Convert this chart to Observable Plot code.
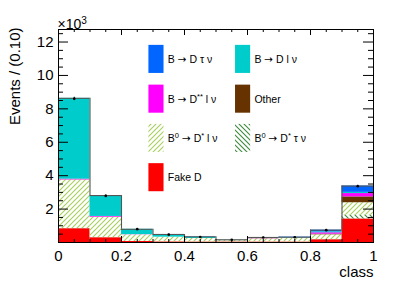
<!DOCTYPE html>
<html><head><meta charset="utf-8">
<script src="https://cdn.jsdelivr.net/npm/d3@7"></script>
<script src="https://cdn.jsdelivr.net/npm/@observablehq/plot@0.6"></script>
<style>body{margin:0;background:#fff} svg{display:block}</style>
</head><body><div id="chart"></div>
<script>
// ---- data (thousands of events per bin of 0.10) ----
const binLow = [0, 0.1, 0.2, 0.3, 0.4, 0.5, 0.6, 0.7, 0.8, 0.9];
const binWidth = 0.1;
const fakeD      = [0.82, 0.28, 0.06, 0.03, 0.02, 0.02, 0.02, 0.02, 0.16, 1.40];
const dstarTauNu = [0.02, 0.01, 0.00, 0.00, 0.00, 0.00, 0.00, 0.00, 0.02, 0.23];
const dstarLNu   = [2.90, 1.22, 0.40, 0.29, 0.22, 0.12, 0.20, 0.22, 0.28, 0.75];
const other      = [0.01, 0.01, 0.00, 0.00, 0.00, 0.01, 0.01, 0.01, 0.04, 0.35];
const dssLNu     = [0.04, 0.04, 0.01, 0.00, 0.00, 0.00, 0.01, 0.01, 0.08, 0.20];
const dLNu       = [4.84, 1.25, 0.32, 0.16, 0.08, 0.01, 0.03, 0.03, 0.06, 0.07];
const dTauNu     = [0.00, 0.00, 0.00, 0.00, 0.02, 0.00, 0.03, 0.03, 0.10, 0.38];
const dataCounts = [8.60, 2.79, 0.80, 0.47, 0.33, 0.16, 0.30, 0.31, 0.74, 3.37];
const xTickLabels = [0, 0.2, 0.4, 0.6, 0.8, 1];
const xMinorTicks = [0.05,0.1,0.15,0.25,0.3,0.35,0.45,0.5,0.55,0.65,0.7,0.75,0.85,0.9,0.95];
const yTickLabels = [2, 4, 6, 8, 10, 12];
const yMinorTicks = [0.5,1,1.5,2.5,3,3.5,4.5,5,5.5,6.5,7,7.5,8.5,9,9.5,10.5,11,11.5,12.5];
const legendLabels = ["B → D τ ν", "B → D l ν", "B → D^{**} l ν", "Other", "B^{0} → D^{*} l ν", "B^{0} → D^{*} τ ν", "Fake D"];

// stack order bottom -> top
const series = [
  {name: "Fake D", values: fakeD, fill: "#ff0000"},
  {name: "B0 D* tau nu", values: dstarTauNu, fill: "url(#hatchDark)"},
  {name: "B0 D* l nu", values: dstarLNu, fill: "url(#hatchLight)"},
  {name: "Other", values: other, fill: "#663300"},
  {name: "D** l nu", values: dssLNu, fill: "#ff00ff"},
  {name: "D l nu", values: dLNu, fill: "#00cccc"},
  {name: "D tau nu", values: dTauNu, fill: "#0066ff"}
];
const cum = binLow.map(() => 0);
const stacks = series.map(s => {
  const rows = binLow.map((x, j) => {
    const r = {x1: x, x2: x + binWidth, y1: cum[j], y2: cum[j] + s.values[j]};
    cum[j] += s.values[j];
    return r;
  });
  return {fill: s.fill, rows};
});
const totals = cum.slice();
const topRows = binLow.map((x, j) => ({x1: x, x2: x + binWidth, y: totals[j]}));
const edgeRows = binLow.slice(1).map((x, j) => ({x, y1: totals[j], y2: totals[j + 1]}));
const points = binLow.map((x, j) => ({x: x + binWidth / 2, y: dataCounts[j], e: Math.sqrt(dataCounts[j] * 1000) / 1000}));

// legend layout (data units of the frame)
const legendFills = ["#0066ff", "#00cccc", "#ff00ff", "#663300", "url(#hatchLight)", "url(#hatchDark)", "#ff0000"];
const colX = [0.287, 0.562], rowTop = [11.80, 9.42, 7.07, 4.72], boxW = 0.048, boxH = 1.68, textGap = 0.012;
const legendRows = legendLabels.map((label, i) => {
  const c = i % 2, r = Math.floor(i / 2);
  return {label, fill: legendFills[i], x1: colX[c], x2: colX[c] + boxW, y1: rowTop[r] - boxH, y2: rowTop[r], tx: colX[c] + boxW + textGap, ty: rowTop[r] - boxH / 2};
});

const yMax = 12.75;
const marks = [];
for (const s of stacks) marks.push(Plot.rect(s.rows, {x1: "x1", x2: "x2", y1: "y1", y2: "y2", fill: s.fill}));
marks.push(
  Plot.ruleY(topRows, {x1: "x1", x2: "x2", y: "y", stroke: "#555", strokeWidth: 1.1}),
  Plot.ruleX(edgeRows, {x: "x", y1: "y1", y2: "y2", stroke: "#555", strokeWidth: 1.1}),
  Plot.ruleX(points, {x: "x", y1: d => d.y - d.e, y2: d => d.y + d.e, stroke: "black"}),
  Plot.dot(points, {x: "x", y: "y", r: 1.3, fill: "black"}),
  // legend
  ...legendRows.map(d => Plot.rect([d], {x1: "x1", x2: "x2", y1: "y1", y2: "y2", fill: d.fill})),
  Plot.text(legendRows, {x: "tx", y: "ty", text: "label", textAnchor: "start", lineAnchor: "middle", fontSize: 10.5, fill: "black"}),
  // ticks inside the frame
  Plot.ruleX(xTickLabels, {x: d => d, y1: () => 0, y2: () => 0, insetBottom: 6, stroke: "black"}),
  Plot.ruleX(xMinorTicks, {x: d => d, y1: () => 0, y2: () => 0, insetBottom: 3, stroke: "black"}),
  Plot.ruleX(xTickLabels, {x: d => d, y1: () => yMax, y2: () => yMax, insetTop: 6, stroke: "black"}),
  Plot.ruleX(xMinorTicks, {x: d => d, y1: () => yMax, y2: () => yMax, insetTop: 3, stroke: "black"}),
  Plot.ruleY(yTickLabels, {y: d => d, x1: () => 0, x2: () => 0, insetLeft: 10, stroke: "black"}),
  Plot.ruleY(yMinorTicks, {y: d => d, x1: () => 0, x2: () => 0, insetLeft: 5, stroke: "black"}),
  Plot.ruleY(yTickLabels, {y: d => d, x1: () => 1, x2: () => 1, insetRight: 10, stroke: "black"}),
  Plot.ruleY(yMinorTicks, {y: d => d, x1: () => 1, x2: () => 1, insetRight: 5, stroke: "black"}),
  Plot.frame({stroke: "black"}),
  Plot.axisX({ticks: xTickLabels, tickSize: 0, tickPadding: 8, fontSize: 15, tickFormat: d => String(d), label: null}),
  Plot.axisY({ticks: yTickLabels, tickSize: 0, tickPadding: 5, fontSize: 15, tickFormat: d => String(d), label: null}),
  Plot.text(["class"], {frameAnchor: "bottom-right", textAnchor: "end", lineAnchor: "middle", dy: 30, fontSize: 15, fill: "black"}),
  Plot.text(["Events / (0.10)"], {frameAnchor: "top-left", rotate: -90, textAnchor: "end", lineAnchor: "middle", dx: -43, dy: -2, fontSize: 15, fill: "black"}),
  Plot.text(["×10^{3}"], {frameAnchor: "top-left", textAnchor: "start", lineAnchor: "bottom", dx: -1, dy: -1, fontSize: 14, fill: "black"})
);

const chart = Plot.plot({
  width: 415, height: 282,
  marginLeft: 58, marginRight: 42, marginTop: 29, marginBottom: 40,
  style: {fontFamily: "'Liberation Sans', Arial, Helvetica, sans-serif", background: "white", color: "black"},
  x: {domain: [0, 1]},
  y: {domain: [0, yMax]},
  marks
});

// hatch patterns
const svg = d3.select(chart.tagName === "svg" ? chart : chart.querySelector("svg"));
const defs = svg.insert("defs", ":first-child");
const pl = defs.append("pattern").attr("id", "hatchLight").attr("patternUnits", "userSpaceOnUse").attr("width", 5).attr("height", 5);
pl.append("path").attr("d", "M-1,1 L1,-1 M0,5 L5,0 M4,6 L6,4").attr("stroke", "#a6cf5a").attr("stroke-width", 1.1);
const pd = defs.append("pattern").attr("id", "hatchDark").attr("patternUnits", "userSpaceOnUse").attr("width", 5).attr("height", 5);
pd.append("path").attr("d", "M-1,4 L1,6 M0,0 L5,5 M4,-1 L6,1").attr("stroke", "#3b8a3b").attr("stroke-width", 1.1);

// superscripts written as ^{...}; arrows drawn in a font with a full-size arrow glyph
const NS = "http://www.w3.org/2000/svg";
svg.selectAll("text").each(function() {
  const el = this;
  const targets = el.querySelectorAll("tspan").length ? Array.from(el.querySelectorAll("tspan")) : [el];
  targets.forEach(t => {
    const s = t.textContent;
    if (!s.includes("^{") && !s.includes("→")) return;
    const parts = s.split(/\^\{([^}]*)\}/);
    t.textContent = "";
    parts.forEach((p, k) => {
      if (!p) return;
      if (k % 2 === 1) {
        const ts = document.createElementNS(NS, "tspan");
        ts.textContent = p;
        ts.setAttribute("baseline-shift", "super");
        ts.setAttribute("font-size", "0.72em");
        t.appendChild(ts);
      } else {
        p.split(/(→)/).forEach(q => {
          if (!q) return;
          const ts = document.createElementNS(NS, "tspan");
          ts.textContent = q;
          if (q === "→") ts.setAttribute("font-family", "'DejaVu Sans', sans-serif");
          t.appendChild(ts);
        });
      }
    });
  });
});

document.getElementById("chart").appendChild(chart);
</script>
</body></html>
